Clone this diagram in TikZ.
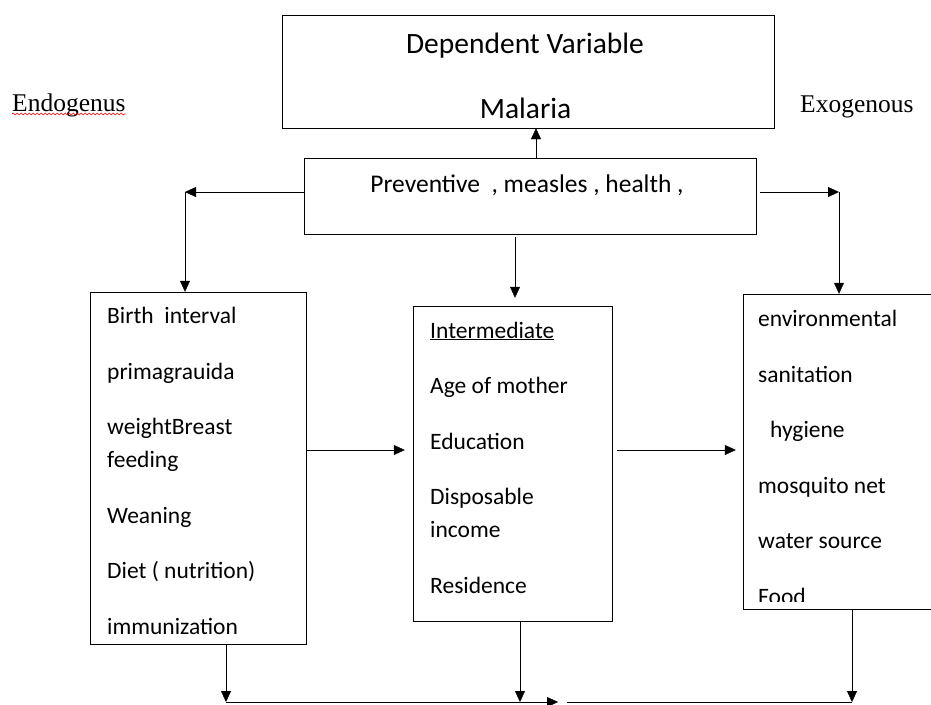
\documentclass[tikz,border=0pt]{standalone}
\usepackage{fontspec}
\setmainfont{Carlito}
\newfontfamily\sidefont{Liberation Serif}
\usetikzlibrary{arrows.meta}
\usetikzlibrary{positioning}
\usetikzlibrary{decorations.pathmorphing}
\tikzset{>={Triangle[length=11pt,width=10pt]}, x=1pt, y=-1pt, line width=1.6pt}
\tikzstyle{block} = [draw, rectangle, inner sep=0pt]
\tikzstyle{items} = [anchor=base west, align=left, inner sep=0pt, font=\fontsize{23.5}{33}\selectfont]
\tikzstyle{title} = [anchor=base, inner sep=0pt, font=\fontsize{29.5}{30}\selectfont]
\tikzstyle{side} = [anchor=base west, inner sep=0pt, font=\sidefont\fontsize{25.5}{26}\selectfont]
\tikzstyle{corner} = [coordinate]

\begin{document}
\begin{tikzpicture}
		\clip (0,0) rectangle (931,704);

		% boxes
		\node [block, minimum width=492pt, minimum height=113pt] (dv) at (528,71.5) {};
		\node [block, minimum width=452pt, minimum height=76pt] (prev) at (530,196) {};
		\node [block, minimum width=216pt, minimum height=352pt] (endo) at (198,468) {};
		\node [block, minimum width=199pt, minimum height=315pt] (inter) at (512.5,463.5) {};
		\node [block, minimum width=202pt, minimum height=315pt] (exo) at (844,451.5) {};

		% texts (base = last line)
		\node [title] (dvtext) at (525,53) {Dependent Variable};
		\node [title] (malaria) at (525.5,118) {Malaria};
		\node [items, anchor=base, font=\fontsize{25.5}{30}\selectfont] (prevtext) at (527,192) {Preventive\ \ , measles , health ,};
		\node [side] (endolabel) at (12,111) {Endogenus};
		\node [side] (exolabel) at (800,112) {Exogenous};
		\draw [red, line width=0.7pt, decorate, decoration={snake, amplitude=1pt, segment length=4pt}]
			([yshift=-3pt]endolabel.base west) -- ([yshift=-3pt]endolabel.base east);

		\node [items] (endoitems) at (107,634) {Birth\ \ interval\\[22.5pt] primagrauida\\[22.5pt] weightBreast\\ feeding\\[22.5pt] Weaning\\[22.5pt] Diet ( nutrition)\\[22.5pt] immunization};
		\node [items] (interitems) at (430,593) {\underline{Intermediate}\\[22.5pt] Age of mother\\[22.5pt] Education\\[22.5pt] Disposable\\ income\\[22.5pt] Residence};
		\begin{scope}
			\clip (exo.north west) rectangle (945,601);
			\node [items] (exoitems) at (758,604) {environmental\\[22.5pt] sanitation\\[22.5pt] \hspace*{12pt}hygiene\\[22.5pt] mosquito net\\[22.5pt] water source\\[22.5pt] Food};
		\end{scope}

		% corners
		\node [corner] (lcorner) at (185,192) {};
		\node [corner] (rcorner) at (839,192) {};
		\node [corner] (mdrop) at (515,237) {};
		\node [corner] (row) at (0,450) {};
		\node [corner] (bl) at (226,702) {};
		\node [corner] (bm) at (520,702) {};
		\node [corner] (br) at (852,702) {};
		\node [corner] (bgap) at (567,702) {};

		% connectors
		\draw [->] ([xshift=6pt]prev.north) -- ([xshift=6pt]prev.north |- dv.south);
		\draw [->] (prev.west |- lcorner) -- (lcorner);
		\draw [->] (lcorner) -- (lcorner |- endo.north);
		\draw [->, shorten <=4pt] (prev.east |- rcorner) -- (rcorner);
		\draw [->] (rcorner) -- (rcorner |- exo.north);
		\draw [->, shorten >=8pt] (mdrop) -- (mdrop |- inter.north);

		\draw [->, shorten >=8pt] (endo.east |- row) -- (inter.west |- row);
		\draw [->, shorten <=5pt, shorten >=7pt] (inter.east |- row) -- (exo.west |- row);

		\draw [->] (endo.south -| bl) -- (bl);
		\draw [->] (inter.south -| bm) -- (bm);
		\draw [->] (exo.south -| br) -- (br);
		\draw [->, shorten >=9pt] (bl) -- (bgap);
		\draw (bgap) -- (br);
	\end{tikzpicture}
\end{document}
